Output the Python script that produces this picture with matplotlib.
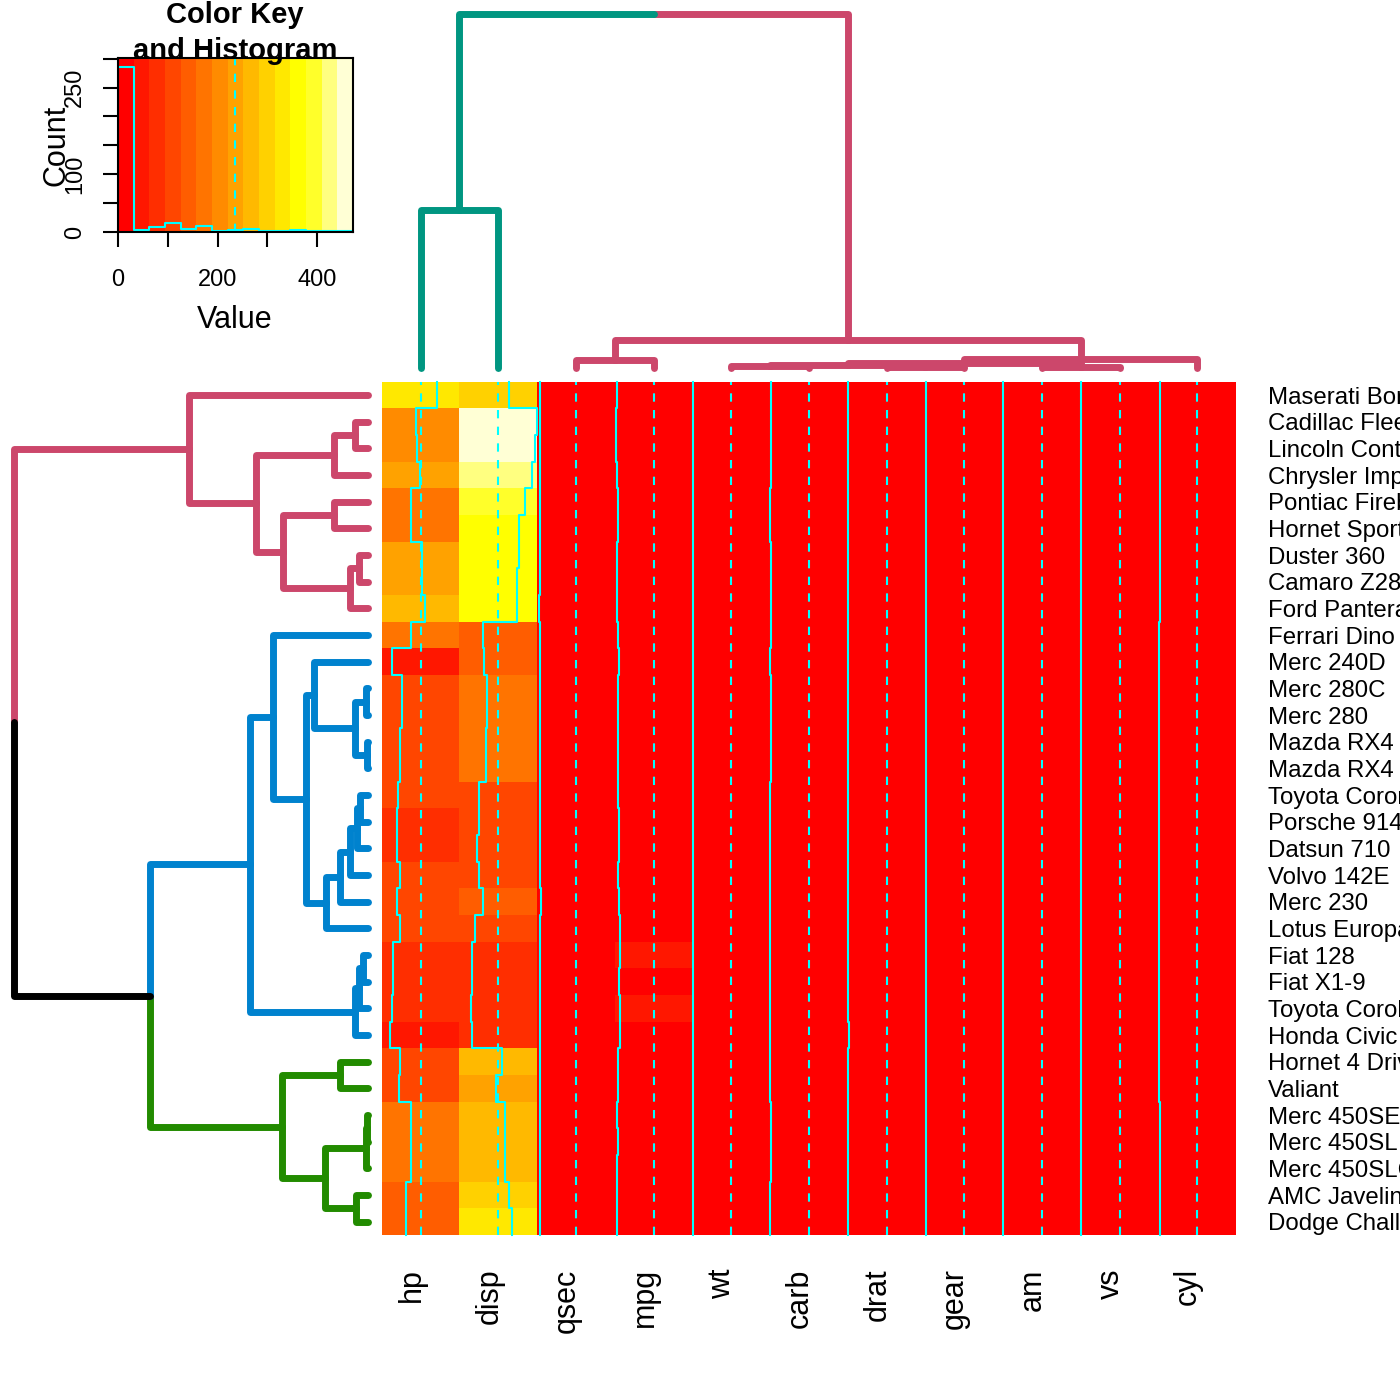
import numpy as np
import matplotlib
matplotlib.use("Agg")
import matplotlib.pyplot as plt
import matplotlib.transforms as mtransforms
from matplotlib.colors import ListedColormap, BoundaryNorm, hsv_to_rgb
from matplotlib.collections import LineCollection

plt.rcParams['font.family'] = ['Liberation Sans', 'DejaVu Sans']

# ---------------- data (mtcars) ----------------
cars = ["Mazda RX4", "Mazda RX4 Wag", "Datsun 710", "Hornet 4 Drive", "Hornet Sportabout",
        "Valiant", "Duster 360", "Merc 240D", "Merc 230", "Merc 280", "Merc 280C",
        "Merc 450SE", "Merc 450SL", "Merc 450SLC", "Cadillac Fleetwood", "Lincoln Continental",
        "Chrysler Imperial", "Fiat 128", "Honda Civic", "Toyota Corolla", "Toyota Corona",
        "Dodge Challenger", "AMC Javelin", "Camaro Z28", "Pontiac Firebird", "Fiat X1-9",
        "Porsche 914-2", "Lotus Europa", "Ford Pantera L", "Ferrari Dino", "Maserati Bora",
        "Volvo 142E"]
mpg = [21.0, 21.0, 22.8, 21.4, 18.7, 18.1, 14.3, 24.4, 22.8, 19.2, 17.8, 16.4, 17.3, 15.2,
       10.4, 10.4, 14.7, 32.4, 30.4, 33.9, 21.5, 15.5, 15.2, 13.3, 19.2, 27.3, 26.0, 30.4,
       15.8, 19.7, 15.0, 21.4]
cyl = [6, 6, 4, 6, 8, 6, 8, 4, 4, 6, 6, 8, 8, 8, 8, 8, 8, 4, 4, 4, 4, 8, 8, 8, 8, 4, 4, 4,
       8, 6, 8, 4]
disp = [160.0, 160.0, 108.0, 258.0, 360.0, 225.0, 360.0, 146.7, 140.8, 167.6, 167.6, 275.8,
        275.8, 275.8, 472.0, 460.0, 440.0, 78.7, 75.7, 71.1, 120.1, 318.0, 304.0, 350.0,
        400.0, 79.0, 120.3, 95.1, 351.0, 145.0, 301.0, 121.0]
hp = [110, 110, 93, 110, 175, 105, 245, 62, 95, 123, 123, 180, 180, 180, 205, 215, 230, 66,
      52, 65, 97, 150, 150, 245, 175, 66, 91, 113, 264, 175, 335, 109]
drat = [3.90, 3.90, 3.85, 3.08, 3.15, 2.76, 3.21, 3.69, 3.92, 3.92, 3.92, 3.07, 3.07, 3.07,
        2.93, 3.00, 3.23, 4.08, 4.93, 4.22, 3.70, 2.76, 3.15, 3.73, 3.08, 4.08, 4.43, 3.77,
        4.22, 3.62, 3.54, 4.11]
wt = [2.620, 2.875, 2.320, 3.215, 3.440, 3.460, 3.570, 3.190, 3.150, 3.440, 3.440, 4.070,
      3.730, 3.780, 5.250, 5.424, 5.345, 2.200, 1.615, 1.835, 2.465, 3.520, 3.435, 3.840,
      3.845, 1.935, 2.140, 1.513, 3.170, 2.770, 3.570, 2.780]
qsec = [16.46, 17.02, 18.61, 19.44, 17.02, 20.22, 15.84, 20.00, 22.90, 18.30, 18.90, 17.40,
        17.60, 18.00, 17.98, 17.82, 17.42, 19.47, 18.52, 19.90, 20.01, 16.87, 17.30, 15.41,
        17.05, 18.90, 16.70, 16.90, 14.50, 15.50, 14.60, 18.60]
vs = [0, 0, 1, 1, 0, 1, 0, 1, 1, 1, 1, 0, 0, 0, 0, 0, 0, 1, 1, 1, 1, 0, 0, 0, 0, 1, 0, 1, 0,
      0, 0, 1]
am = [1, 1, 1, 0, 0, 0, 0, 0, 0, 0, 0, 0, 0, 0, 0, 0, 0, 1, 1, 1, 0, 0, 0, 0, 0, 1, 1, 1, 1,
      1, 1, 1]
gear = [4, 4, 4, 3, 3, 3, 3, 4, 4, 4, 4, 3, 3, 3, 3, 3, 3, 4, 4, 4, 3, 3, 3, 3, 3, 4, 5, 5,
        5, 5, 5, 4]
carb = [4, 4, 1, 1, 2, 1, 4, 2, 2, 4, 4, 3, 3, 3, 4, 4, 4, 1, 2, 1, 1, 2, 2, 4, 2, 1, 2, 2,
        4, 6, 8, 2]
var_names = ["mpg", "cyl", "disp", "hp", "drat", "wt", "qsec", "vs", "am", "gear", "carb"]

# display order
row_order = ["Maserati Bora", "Cadillac Fleetwood", "Lincoln Continental", "Chrysler Imperial",
             "Pontiac Firebird", "Hornet Sportabout", "Duster 360", "Camaro Z28",
             "Ford Pantera L", "Ferrari Dino", "Merc 240D", "Merc 280C", "Merc 280",
             "Mazda RX4 Wag", "Mazda RX4", "Toyota Corona", "Porsche 914-2", "Datsun 710",
             "Volvo 142E", "Merc 230", "Lotus Europa", "Fiat 128", "Fiat X1-9",
             "Toyota Corolla", "Honda Civic", "Hornet 4 Drive", "Valiant", "Merc 450SE",
             "Merc 450SL", "Merc 450SLC", "AMC Javelin", "Dodge Challenger"]
col_order = ["hp", "disp", "qsec", "mpg", "wt", "carb", "drat", "gear", "am", "vs", "cyl"]
row_cluster_colors = ["#CC476B", "#0082CE", "#228B00"]   # clusters top -> bottom
col_cluster_colors = ["#009681", "#CC476B"]              # clusters left -> right
key_count_labels = [0, 100, 250]
key_value_labels = [0, 200, 400]

# ---------------- helpers ----------------
X = np.array([mpg, cyl, disp, hp, drat, wt, qsec, vs, am, gear, carb], dtype=float).T


def heat_colors(n):
    j = n // 4
    i = n - j
    cols = [hsv_to_rgb((h, 1.0, 1.0)) for h in np.linspace(0, 1 / 6, i)]
    if j > 0:
        cols += [hsv_to_rgb((1 / 6, s, 1.0)) for s in np.linspace(1 - 1 / (2 * j), 1 / (2 * j), j)]
    return cols


def hclust_complete(data):
    n = len(data)
    D = np.sqrt(((data[:, None, :] - data[None, :, :]) ** 2).sum(-1))
    members = {i: [i] for i in range(n)}
    height = {i: 0.0 for i in range(n)}
    children = {}
    active = list(range(n))
    nxt = n
    while len(active) > 1:
        best = None
        for a in range(len(active)):
            for b in range(a + 1, len(active)):
                p, q = active[a], active[b]
                d = D[np.ix_(members[p], members[q])].max()
                if best is None or d < best[0] - 1e-12:
                    best = (d, p, q)
        d, p, q = best
        children[nxt] = (p, q)
        height[nxt] = d
        members[nxt] = members[p] + members[q]
        active.remove(p)
        active.remove(q)
        active.append(nxt)
        nxt += 1
    return children, height, members, nxt - 1


def dendro_segments(data, leaf_pos, k, colors, reverse_color_order):
    children, height, members, root = hclust_complete(data)
    pos = dict(leaf_pos)

    def place(node):
        if node in children:
            a, b = children[node]
            place(a)
            place(b)
            pos[node] = (pos[a] + pos[b]) / 2.0
    place(root)
    internal = sorted(children.keys(), key=lambda c: height[c], reverse=True)
    above = set(internal[:k - 1])
    roots = [c for n in above for c in children[n] if c not in above]
    roots.sort(key=lambda c: pos[c], reverse=reverse_color_order)
    col = {}

    def paint(node, c):
        col[node] = c
        if node in children:
            for ch in children[node]:
                paint(ch, c)
    for r, c in zip(roots, colors):
        paint(r, c)
    segs, segcols = [], []
    for n, (a, b) in children.items():
        for c in (a, b):
            segs.append([(pos[n], height[n]), (pos[c], height[n]), (pos[c], height[c])])
            segcols.append(col.get(c, "black"))
    return segs, segcols, height[root]


# ---------------- figure ----------------
W = H = 1400.0
fig = plt.figure(figsize=(14, 14), dpi=100)
fig.patch.set_facecolor("white")


def add_ax(l, t, r, b):
    return fig.add_axes([l / W, 1 - b / H, (r - l) / W, (b - t) / H])


nr, nc = len(row_order), len(col_order)
ridx = [cars.index(nm) for nm in reversed(row_order)]   # bottom -> top
cidx = [var_names.index(v) for v in col_order]
M = X[np.ix_(ridx, cidx)]

nbreaks = 16
breaks = np.linspace(X.min(), X.max(), nbreaks)
cmap = ListedColormap(heat_colors(nbreaks - 1))
norm = BoundaryNorm(breaks, cmap.N)

# heatmap
hx0, hy0, hx1, hy1 = 381.8, 381.8, 1236.0, 1235.0
ax = add_ax(hx0, hy0, hx1, hy1)
ax.pcolormesh(np.arange(nc + 1) + 0.5, np.arange(nr + 1) + 0.5, M, cmap=cmap, norm=norm)
ax.set_xlim(0.5, nc + 0.5)
ax.set_ylim(0.5, nr + 0.5)
scaled = (M - breaks[0]) / (breaks[-1] - breaks[0])
vline = np.median(breaks)
vline_s = (vline - breaks[0]) / (breaks[-1] - breaks[0])
yv = np.arange(nr + 1) + 0.5
for i in range(nc):
    ax.axvline(i + 1 - 0.5 + vline_s, color="cyan", lw=1.5, dashes=(4, 4))
    xv = (i + 1) + scaled[:, i] - 0.5
    xv = np.concatenate([[xv[0]], xv])
    ax.plot(xv, yv, color="cyan", lw=1.5, drawstyle="steps-post", clip_on=False)
for s in ax.spines.values():
    s.set_visible(False)
ax.yaxis.tick_right()
ax.set_yticks(np.arange(1, nr + 1))
ax.set_yticklabels(list(reversed(row_order)), fontsize=17.3)
ax.set_xticks(np.arange(1, nc + 1))
ax.set_xticklabels(col_order, fontsize=22, rotation=90)
ax.tick_params(axis="y", length=0, pad=23)
ax.tick_params(axis="x", length=0, pad=24)
shift = mtransforms.ScaledTranslation(-9 / 100.0, 0, fig.dpi_scale_trans)
for lab in ax.get_xticklabels():
    lab.set_transform(lab.get_transform() + shift)

# row dendrogram
row_leaf_pos = {cars.index(nm): i + 1 for i, nm in enumerate(reversed(row_order))}
segs, scol, hmax = dendro_segments(X, row_leaf_pos, 3, row_cluster_colors, True)
rax = add_ax(0, hy0, hx0, hy1)
segs_r = [[(h, p) for (p, h) in s] for s in segs]
rax.add_collection(LineCollection(segs_r, colors=scol, linewidths=5, capstyle="round",
                                  joinstyle="round", clip_on=False))
rax.set_xlim(1.04 * hmax, -0.04 * hmax)
rax.set_ylim(0.5, nr + 0.5)
rax.axis("off")

# column dendrogram
col_leaf_pos = {var_names.index(v): i + 1 for i, v in enumerate(col_order)}
segs, scol, hmax = dendro_segments(X.T, col_leaf_pos, 2, col_cluster_colors, False)
cax = add_ax(hx0, 0, hx1, hy0)
cax.add_collection(LineCollection(segs, colors=scol, linewidths=5, capstyle="round",
                                  joinstyle="round", clip_on=False))
cax.set_xlim(0.5, nc + 0.5)
cax.set_ylim(-0.04 * hmax, 1.04 * hmax)
cax.axis("off")

# color key with histogram
kax = add_ax(118, 58, 353, 232)
hxs = (breaks - breaks[0]) / (breaks[-1] - breaks[0])
mids = (breaks[:-1] + breaks[1:]) / 2
kax.pcolormesh(hxs, [0, 1], mids[None, :], cmap=cmap, norm=norm)
vals = X.ravel()
bins = np.clip(np.searchsorted(breaks, vals, side="left") - 1, 0, nbreaks - 2)
counts = np.bincount(bins, minlength=nbreaks - 1)
hy = np.concatenate([counts, [counts[-1]]]).astype(float)
kax.plot(hxs, hy / hy.max() * 0.95, color="cyan", lw=1.5, drawstyle="steps-post")
kax.axvline(vline_s, color="cyan", lw=1.5, dashes=(4, 4))
kax.set_xlim(0, 1)
kax.set_ylim(0, 1)
cticks = np.arange(0, np.ceil(hy.max() / 50) * 50 + 1, 50)
kax.set_yticks(cticks / hy.max() * 0.95)
kax.set_yticklabels([str(int(c)) if int(c) in key_count_labels else "" for c in cticks],
                    rotation=90, va="center", fontsize=17)
vticks = np.arange(0, breaks[-1] + 1, 100)
kax.set_xticks((vticks - breaks[0]) / (breaks[-1] - breaks[0]))
kax.set_xticklabels([str(int(v)) if int(v) in key_value_labels else "" for v in vticks],
                    fontsize=17)
kax.tick_params(axis="both", length=11, width=1.5, direction="out")
kax.tick_params(axis="y", pad=12)
kax.tick_params(axis="x", pad=16)
for s in kax.spines.values():
    s.set_linewidth(1.5)

fig.text(235 / W, 1 - 23 / H, "Color Key", ha="center", va="baseline",
         fontsize=21, fontweight="bold", zorder=5)
fig.text(235 / W, 1 - 59 / H, "and Histogram", ha="center", va="baseline",
         fontsize=21, fontweight="bold", zorder=5)
fig.text(56 / W, 1 - 145 / H, "Count", ha="center", va="center", rotation=90, fontsize=22)
fig.text(235 / W, 1 - 328 / H, "Value", ha="center", va="baseline", fontsize=22)

fig.savefig("out.png", dpi=100, facecolor="white")
